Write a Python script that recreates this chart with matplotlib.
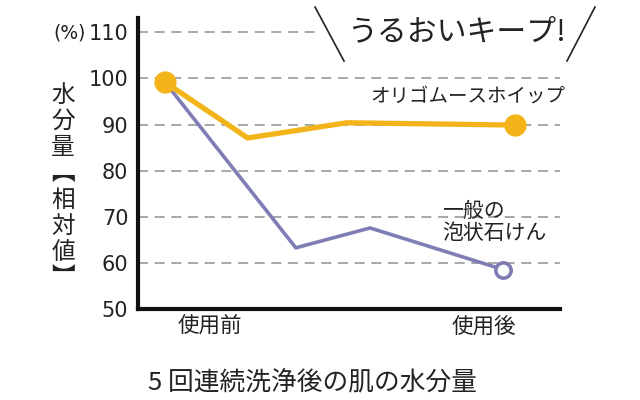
import matplotlib.pyplot as plt
from matplotlib.lines import Line2D

plt.rcParams['font.family'] = ['Noto Sans CJK JP', 'DejaVu Sans']

# data (x is a relative time scale, 0..10 across the plot)
oligo_x = [0.64, 2.6, 4.95, 8.93]
oligo_y = [99.2, 87.1, 90.4, 89.9]
soap_x = [0.64, 3.74, 5.5, 8.65]
soap_y = [99.2, 63.3, 67.6, 58.6]
yticks = [50, 60, 70, 80, 90, 100, 110]
xtick_pos = [1.7, 8.2]
xtick_labels = ['使用前', '使用後']

orange = '#F2B418'
purple = '#7F7DB5'

fig = plt.figure(figsize=(6.4, 4.0), dpi=100)
ax = fig.add_axes([0.2156, 0.227, 0.875 - 0.2156, 0.955 - 0.227])
ax.set_xlim(0, 10)
ax.set_ylim(50, 113.1)

# dashed grid, top one is cut where the callout starts
for t in yticks[1:]:
    xend = 4.26 if t == 110 else 10
    ax.plot([0, xend], [t, t], color='#9a9a9a', lw=1.2, dashes=(6, 4), zorder=1)

ax.plot(soap_x, soap_y, color=purple, lw=2.6, zorder=2)
ax.plot(soap_x[-1], soap_y[-1], 'o', ms=11, mfc='white', mec=purple, mew=2.6, zorder=3)
ax.plot(oligo_x, oligo_y, color=orange, lw=3.8, zorder=4)
ax.plot([oligo_x[0], oligo_x[-1]], [oligo_y[0], oligo_y[-1]], 'o', ms=15, color=orange, zorder=5)

for s in ['top', 'right']:
    ax.spines[s].set_visible(False)
for s in ['left', 'bottom']:
    ax.spines[s].set_linewidth(3)
    ax.spines[s].set_color('#111111')

ax.set_yticks(yticks)
ax.set_yticklabels([str(t) for t in yticks], fontsize=15, color='#222222', family='DejaVu Sans')
ax.tick_params(axis='y', length=0, pad=7)
ax.set_xticks(xtick_pos)
ax.set_xticklabels(xtick_labels, fontsize=15.5, color='#222222')
ax.tick_params(axis='x', length=0, pad=5)

fig.text(86 / 640, 1 - 33 / 400, '(%)', fontsize=13.5, ha='right', va='center', color='#222222',
         family='DejaVu Sans')

# vertical y label
ylab = '\n'.join('水分量︻相対値︼')
fig.text(63 / 640, 1 - 187 / 400, ylab, fontsize=17, ha='center', va='center',
         linespacing=1.18, color='#222222')

ax.text(468 / 640, 1 - 97 / 400, 'オリゴムースホイップ', transform=fig.transFigure,
        fontsize=14, ha='center', va='center', color='#222222')
ax.text(442 / 640, 1 - 222 / 400, '一般の\n泡状石けん', transform=fig.transFigure,
        fontsize=15, ha='left', va='center', linespacing=1.0, color='#222222')

# callout
fig.text(456 / 640, 1 - 32 / 400, 'うるおいキープ!', fontsize=21.5, ha='center', va='center',
         color='#222222')
fig.add_artist(Line2D([315 / 640, 344 / 640], [1 - 7 / 400, 1 - 61 / 400], color='#222222', lw=1.2))
fig.add_artist(Line2D([595 / 640, 567 / 640], [1 - 7 / 400, 1 - 61 / 400], color='#222222', lw=1.2))

fig.text(313 / 640, 1 - 382 / 400, '5 回連続洗浄後の肌の水分量', fontsize=18.5, ha='center',
         va='center', color='#222222')

fig.savefig('out.png', dpi=100)
